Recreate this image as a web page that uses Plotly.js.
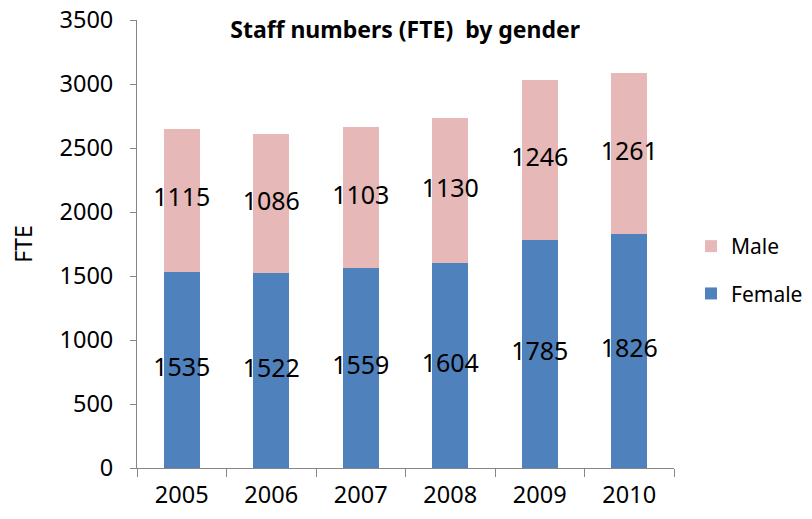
<!DOCTYPE html>
<html><head><meta charset="utf-8">
<script src="https://cdn.plot.ly/plotly-3.0.1.min.js"></script>
<style>html,body{margin:0;padding:0;background:#fff}</style>
</head><body><div id="chart" style="width:812px;height:519px"></div>
<script>
var years = ['2005','2006','2007','2008','2009','2010'];
var female = [1535,1522,1559,1604,1785,1826];
var male = [1115,1086,1103,1130,1246,1261];

var FONT = '"Noto Sans", "Open Sans", sans-serif';
var femaleMid = female.map(function(v){return v/2;});
var maleMid = male.map(function(v,i){return female[i]+v/2;});

var traces = [
  {type:'bar', name:'Female', legendgroup:'f', legendrank:2, x:years, y:female, marker:{color:'#4F81BD'}, width:0.4, hoverinfo:'y'},
  {type:'bar', name:'Male', legendgroup:'m', legendrank:1, x:years, y:male, marker:{color:'#E6B9B8'}, width:0.4, hoverinfo:'y'},
  {type:'scatter', mode:'text', x:years, y:femaleMid, text:female.map(String), textposition:'middle center',
   textfont:{family:FONT, size:25, color:'#000'}, showlegend:false, hoverinfo:'skip', cliponaxis:false},
  {type:'scatter', mode:'text', x:years, y:maleMid, text:male.map(String), textposition:'middle center',
   textfont:{family:FONT, size:25, color:'#000'}, showlegend:false, hoverinfo:'skip', cliponaxis:false}
];

var layout = {
  width:812, height:519,
  margin:{l:137, r:138, t:20, b:51, autoexpand:false},
  barmode:'stack',
  paper_bgcolor:'#fff', plot_bgcolor:'#fff',
  font:{family:FONT, size:23, color:'#000'},
  title:{text:'<b>Staff numbers (FTE)  by gender</b>', font:{family:FONT, size:23, color:'#000'},
         x:0.499, xanchor:'center', y:0.942, yanchor:'middle', yref:'container'},
  xaxis:{type:'category', showline:true, linecolor:'#868686', linewidth:1,
         ticks:'outside', tickson:'boundaries', ticklen:8, tickcolor:'#868686',
         showgrid:false, zeroline:false, ticklabelstandoff:6, automargin:false,
         tickfont:{family:FONT, size:23.5, color:'#000'}},
  yaxis:{range:[0,3500], dtick:500, showline:true, linecolor:'#868686', linewidth:1,
         ticks:'outside', ticklen:6, tickcolor:'#868686', showgrid:false, zeroline:false,
         ticklabelstandoff:12, automargin:false,
         tickfont:{family:FONT, size:23.5, color:'#000'},
         title:{text:'FTE', font:{family:FONT, size:23, color:'#000'}, standoff:20}},
  legend:{xref:'container', x:0.851, xanchor:'left', y:0.442, yanchor:'middle', traceorder:'grouped',
          font:{family:FONT, size:21, color:'#000'}, itemwidth:30, tracegroupgap:17},
  showlegend:true
};
Plotly.newPlot('chart', traces, layout, {displayModeBar:false, staticPlot:true});
</script></body></html>
